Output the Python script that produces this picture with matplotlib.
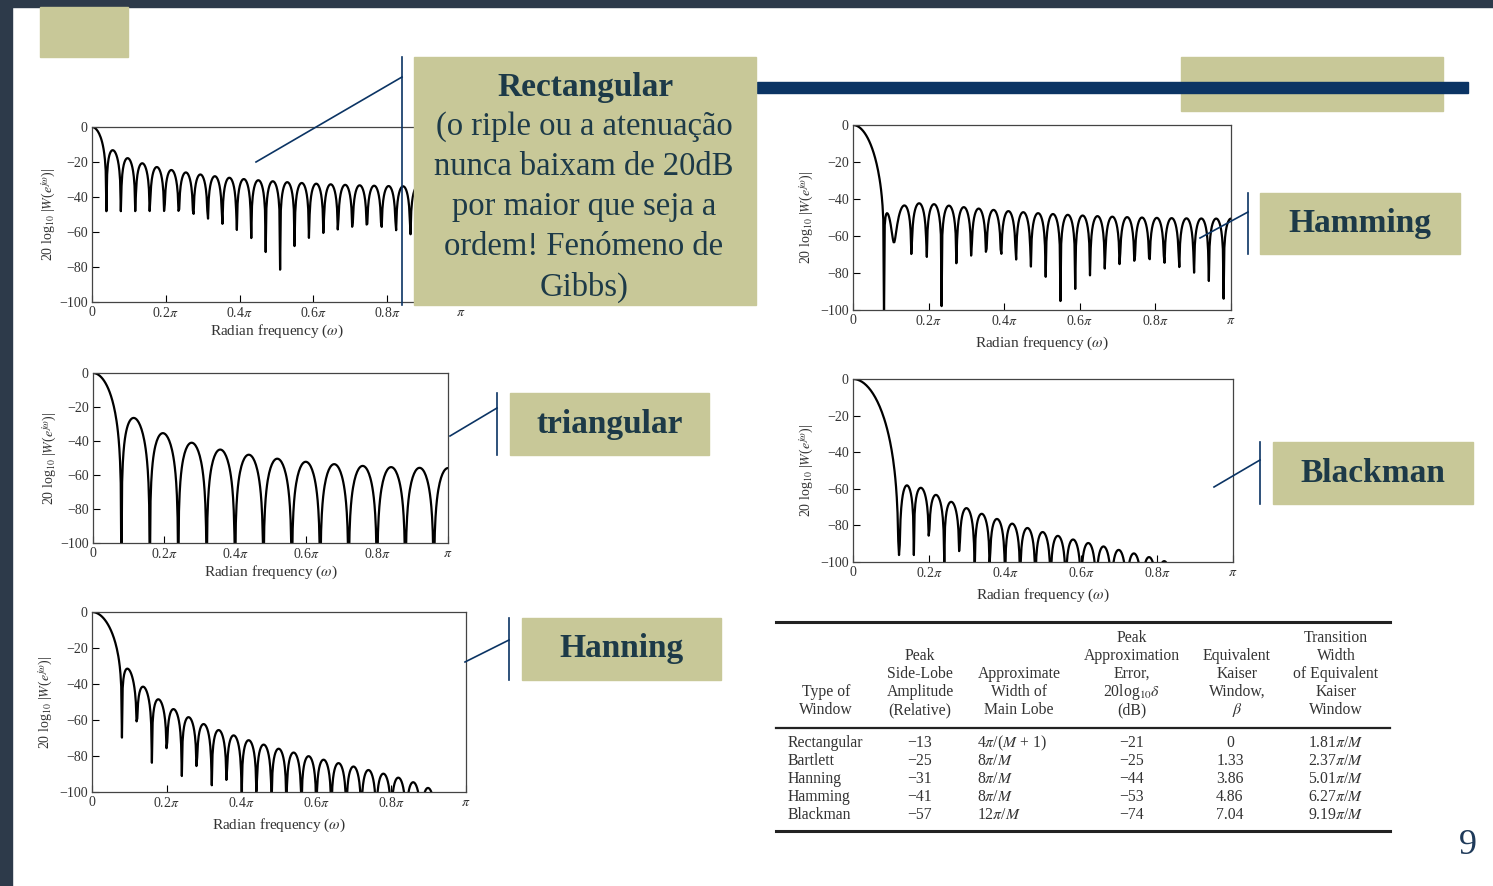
import numpy as np
import matplotlib
matplotlib.use('Agg')
import matplotlib.pyplot as plt
from matplotlib.patches import Rectangle

plt.rcParams['font.family'] = ['Liberation Serif', 'DejaVu Serif']
plt.rcParams['mathtext.fontset'] = 'stix'

# window data (M = 50 -> 51 samples), as in the figure
M = 50
NFFT = 1024
windows = {
    'rect': np.ones(M + 1),
    'bartlett': np.bartlett(M + 1),
    'hanning': np.hanning(M + 1),
    'hamming': np.hamming(M + 1),
    'blackman': np.blackman(M + 1),
}
xtick_vals = [0, 0.2, 0.4, 0.6, 0.8, 1.0]
xtick_labels = ['0', r'0.2$\pi$', r'0.4$\pi$', r'0.6$\pi$', r'0.8$\pi$', r'$\pi$']
ytick_vals = [0, -20, -40, -60, -80, -100]
ytick_labels = ['0', '\u221220', '\u221240', '\u221260', '\u221280', '\u2212100']

# table data
col_headers = ['Type of\nWindow', 'Peak\nSide-Lobe\nAmplitude\n(Relative)',
               'Approximate\nWidth of\nMain Lobe',
               'Peak\nApproximation\nError,\n20log$_{10}$$\\delta$\n(dB)',
               'Equivalent\nKaiser\nWindow,\n$\\beta$',
               'Transition\nWidth\nof Equivalent\nKaiser\nWindow']
win_types = ['Rectangular', 'Bartlett', 'Hanning', 'Hamming', 'Blackman']
side_lobe = ['\u221213', '\u221225', '\u221231', '\u221241', '\u221257']
main_lobe = [r'4$\pi$/($M$ + 1)', r'8$\pi$/$M$', r'8$\pi$/$M$', r'8$\pi$/$M$', r'12$\pi$/$M$']
approx_err = ['\u221221', '\u221225', '\u221244', '\u221253', '\u221274']
kaiser_beta = ['0', '1.33', '3.86', '4.86', '7.04']
trans_width = [r'1.81$\pi$/$M$', r'2.37$\pi$/$M$', r'5.01$\pi$/$M$',
               r'6.27$\pi$/$M$', r'9.19$\pi$/$M$']

W, H = 1493, 886
fig = plt.figure(figsize=(W / 100, H / 100), dpi=100)
fig.patch.set_facecolor('white')

khaki = '#c8c898'
navy = '#0b3464'
textc = '#1d3a48'
tblc = '#333333'


def px_axes(x0, y0, x1, y1):
    return fig.add_axes([x0 / W, 1 - y1 / H, (x1 - x0) / W, (y1 - y0) / H])


def spectrum(w):
    mag = np.abs(np.fft.rfft(w, NFFT))
    db = 20 * np.log10(np.maximum(mag / mag[0], 1e-12))
    om = np.linspace(0, 1, NFFT // 2 + 1)
    return om, db


def draw_plot(box, w, xlpad, ylpad):
    ax = px_axes(*box)
    om, db = spectrum(w)
    ax.plot(om, db, color='black', lw=1.6)
    ax.set_xlim(0, 1)
    ax.set_ylim(-100, 0)
    ax.set_xticks(xtick_vals)
    ax.set_xticklabels(xtick_labels, fontsize=10, color='#333333')
    ax.set_yticks(ytick_vals)
    ax.set_yticklabels(ytick_labels, fontsize=10, color='#333333')
    ax.tick_params(direction='in', length=5, width=0.8, pad=3)
    ax.set_xlabel(r'Radian frequency ($\omega$)', fontsize=11, labelpad=xlpad,
                  color='#333333')
    ax.set_ylabel(r'20 log$_{10}$ |$W$($e^{j\omega}$)|', fontsize=10, labelpad=ylpad,
                  color='#333333')
    for s in ax.spines.values():
        s.set_color('#444444')
        s.set_linewidth(0.9)
    return ax


draw_plot((92, 127, 461, 302), windows['rect'], 2, 1)
draw_plot((853, 125, 1231, 310), windows['hamming'], 5, 3)
draw_plot((93, 373, 448, 543), windows['bartlett'], 2, 1)
draw_plot((853, 379, 1233, 562), windows['blackman'], 5, 3)
draw_plot((92, 612, 466, 792), windows['hanning'], 5, 3)

# overlay for slide decorations, in pixel coords
ov = fig.add_axes([0, 0, 1, 1], zorder=10)
ov.set_xlim(0, W)
ov.set_ylim(H, 0)
ov.axis('off')
ov.patch.set_alpha(0)

ov.add_patch(Rectangle((0, 0), W, 7, color='#2d3a4a'))
ov.add_patch(Rectangle((0, 0), 12, H, color='#2d3a4a'))
ov.add_patch(Rectangle((40, 7), 88, 50, color=khaki))
ov.add_patch(Rectangle((1181, 57), 262, 54, color=khaki))
ov.add_patch(Rectangle((757, 82), 711, 11, color=navy))

# Rectangular box
ov.add_patch(Rectangle((414, 57), 342, 248, color=khaki))
ov.plot([402, 402], [57, 305], color=navy, lw=1.2)
ov.plot([256, 402], [162, 77], color=navy, lw=1.2)
ov.text(585, 87, 'Rectangular', ha='center', va='center', fontsize=24,
        fontweight='bold', color=textc)
rect_lines = ['(o riple ou a atenuação', 'nunca baixam de 20dB',
              'por maior que seja a', 'ordem! Fenómeno de', 'Gibbs)']
for i, line in enumerate(rect_lines):
    ov.text(584, 127 + 40 * i, line, ha='center', va='center', fontsize=23.5,
            color=textc)

# label boxes: (x0, y0, x1, y1, text, vline x, diag start, diag end)
labels = [
    (1260, 193, 1460, 254, 'Hamming', 1248, (1200, 238), (1248, 212)),
    (510, 393, 709, 455, 'triangular', 497, (450, 436), (497, 408)),
    (1273, 442, 1473, 504, 'Blackman', 1260, (1214, 487), (1260, 460)),
    (522, 618, 721, 680, 'Hanning', 509, (465, 662), (509, 640)),
]
for x0, y0, x1, y1, txt, vx, d0, d1 in labels:
    ov.add_patch(Rectangle((x0, y0), x1 - x0, y1 - y0, color=khaki))
    ov.plot([vx, vx], [y0, y1], color=navy, lw=1.2)
    ov.plot([d0[0], d1[0]], [d0[1], d1[1]], color=navy, lw=1.2)
    ov.text((x0 + x1) / 2, (y0 + y1) / 2, txt, ha='center', va='center',
            fontsize=24, fontweight='bold', color=textc)

# table
ov.plot([776, 1390], [622, 622], color='#222222', lw=2.2)
ov.plot([776, 1390], [728, 728], color='#222222', lw=1.6)
ov.plot([776, 1390], [831, 831], color='#222222', lw=2.2)
col_x = [826, 920, 1019, 1132, 1237, 1336]
fs = 11.3
for cx, hdr in zip(col_x, col_headers):
    lines = hdr.split('\n')
    for j, ln in enumerate(lines):
        ov.text(cx, 710 - 18 * (len(lines) - 1 - j), ln, ha='center', va='center',
                fontsize=fs, color=tblc)
for i in range(len(win_types)):
    y = 743 + 18 * i
    ov.text(788, y, win_types[i], ha='left', va='center', fontsize=fs, color=tblc)
    ov.text(920, y, side_lobe[i], ha='center', va='center', fontsize=fs, color=tblc)
    ov.text(977, y, main_lobe[i], ha='left', va='center', fontsize=fs, color=tblc)
    ov.text(1132, y, approx_err[i], ha='center', va='center', fontsize=fs, color=tblc)
    ov.text(1230, y, kaiser_beta[i], ha='center', va='center', fontsize=fs, color=tblc)
    ov.text(1336, y, trans_width[i], ha='center', va='center', fontsize=fs, color=tblc)

ov.text(1468, 845, '9', ha='center', va='center', fontsize=26, color='#1f3a5a')

fig.savefig('out.png', dpi=100, facecolor='white')
